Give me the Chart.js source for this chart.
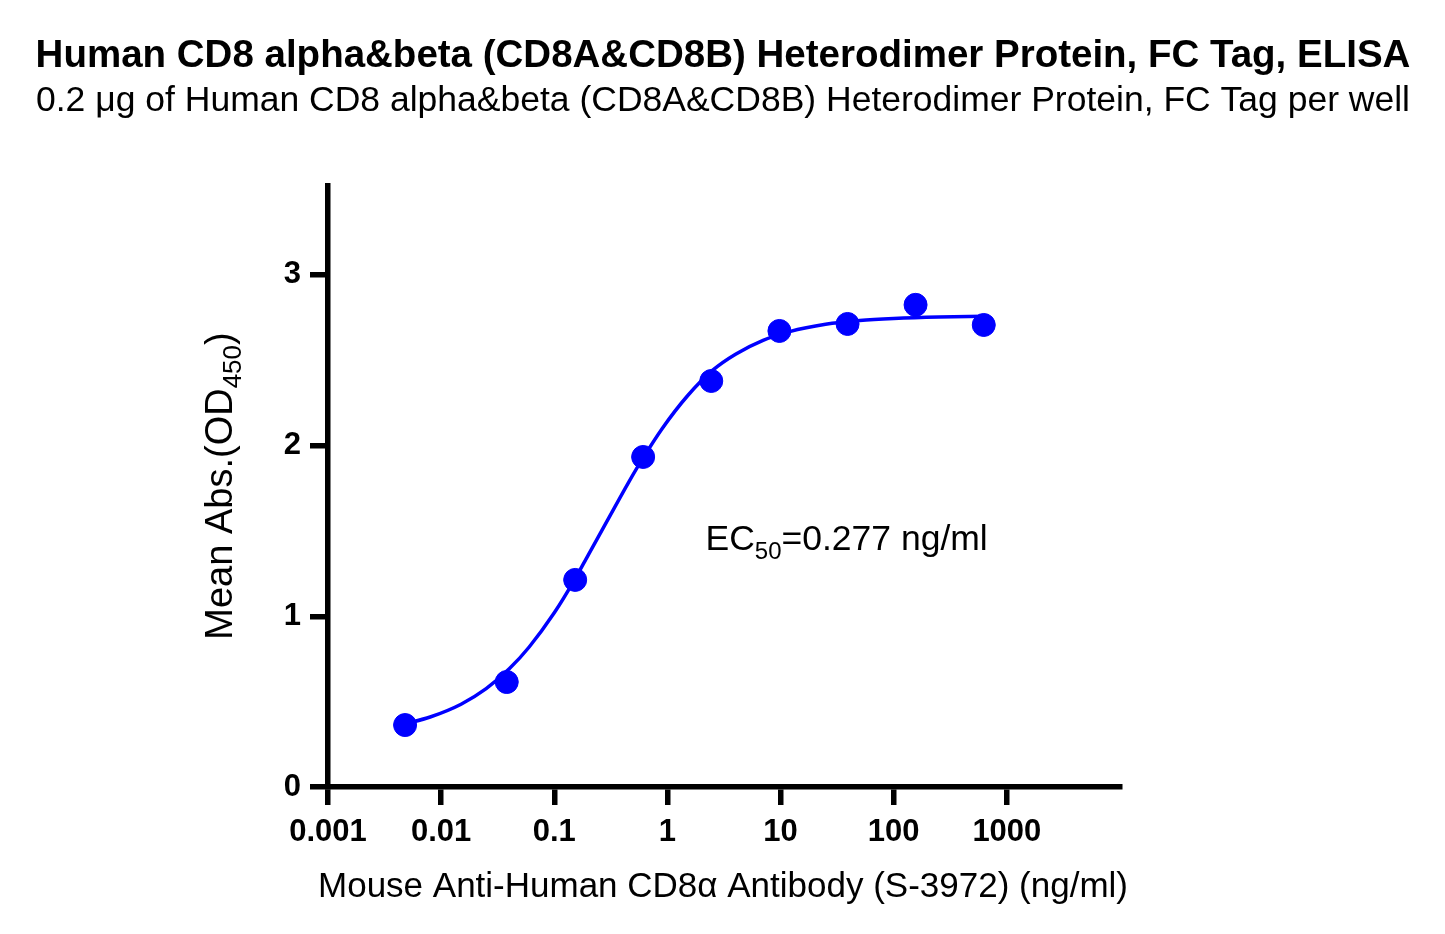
<!DOCTYPE html>
<html>
<head>
<meta charset="utf-8">
<script src="https://cdn.jsdelivr.net/npm/chart.js@4.4.1/dist/chart.umd.min.js"></script>
<style>
  html, body { margin: 0; padding: 0; background: #fff; }
  #wrap { width: 1445px; height: 934px; }
</style>
</head>
<body>
<div id="wrap"><canvas id="elisa" width="1445" height="934"></canvas></div>
<script>
// measured points (ng/ml vs OD450)
const concentrations = [0.0048, 0.038, 0.153, 0.61, 2.44, 9.77, 39.1, 156, 625];
const absorbance = [0.363, 0.615, 1.213, 1.933, 2.378, 2.671, 2.712, 2.824, 2.706];

// fitted curve
const fitX = [0.0048, 0.008, 0.015, 0.025, 0.04, 0.06, 0.1, 0.15, 0.2, 0.3, 0.45, 0.6, 0.9, 1.5, 2.5, 4, 7, 12, 25, 50, 100, 250, 625];
const fitY = [0.37, 0.41, 0.485, 0.576, 0.692, 0.82, 1.02, 1.21, 1.36, 1.57, 1.78, 1.92, 2.10, 2.29, 2.44, 2.535, 2.616, 2.667, 2.71, 2.732, 2.744, 2.753, 2.757];

const xTicks = [0.001, 0.01, 0.1, 1, 10, 100, 1000];
const xTickLabels = ['0.001', '0.01', '0.1', '1', '10', '100', '1000'];
const yTicks = [0, 1, 2, 3];

const FONT = '"Liberation Sans", Arial, sans-serif';
const BLUE = '#0000ff';

// Titles, axis titles and EC50 note (need subscripts, so drawn by hand)
const textPlugin = {
    id: 'texts',
    afterDraw(chart) {
        const ctx = chart.ctx;
        const xs = chart.scales.x, ys = chart.scales.y;
        ctx.save();
        ctx.fillStyle = '#000';
        ctx.textBaseline = 'alphabetic';
        ctx.textAlign = 'center';

        ctx.font = 'bold 38.5px ' + FONT;
        ctx.fillText('Human CD8 alpha&beta (CD8A&CD8B) Heterodimer Protein, FC Tag, ELISA', 723, 67);
        ctx.font = '35.5px ' + FONT;
        ctx.fillText('0.2 \u03bcg of Human CD8 alpha&beta (CD8A&CD8B) Heterodimer Protein, FC Tag per well', 723, 111);

        ctx.font = '35px ' + FONT;
        ctx.fillText('Mouse Anti-Human CD8\u03b1 Antibody (S-3972) (ng/ml)', 723, 897);

        // y title with subscript
        ctx.translate(232, 486);
        ctx.rotate(-Math.PI / 2);
        const parts = [['Mean Abs.(OD', 38, 0], ['450', 26, 9], [')', 38, 0]];
        let total = 0;
        parts.forEach(p => { ctx.font = p[1] + 'px ' + FONT; total += ctx.measureText(p[0]).width; });
        let cx = -total / 2;
        ctx.textAlign = 'left';
        parts.forEach(p => {
            ctx.font = p[1] + 'px ' + FONT;
            ctx.fillText(p[0], cx, p[2]);
            cx += ctx.measureText(p[0]).width;
        });
        ctx.setTransform(1, 0, 0, 1, 0, 0);
        ctx.scale(chart.currentDevicePixelRatio, chart.currentDevicePixelRatio);

        // EC50 annotation, anchored in data space
        let ex = xs.getPixelForValue(2.17);
        const ey = ys.getPixelForValue(1.39);
        const ec = [['EC', 35.5, 0], ['50', 24, 9], ['=0.277 ng/ml', 35.5, 0]];
        ec.forEach(p => {
            ctx.font = p[1] + 'px ' + FONT;
            ctx.fillText(p[0], ex, ey + p[2]);
            ex += ctx.measureText(p[0]).width;
        });
        ctx.restore();
    }
};

new Chart(document.getElementById('elisa'), {
    type: 'scatter',
    data: {
        datasets: [
            {
                data: fitX.map((x, i) => ({ x: x, y: fitY[i] })),
                showLine: true,
                borderColor: BLUE,
                borderWidth: 3.5,
                pointRadius: 0,
                cubicInterpolationMode: 'monotone',
                order: 2
            },
            {
                data: concentrations.map((x, i) => ({ x: x, y: absorbance[i] })),
                showLine: false,
                backgroundColor: BLUE,
                borderColor: BLUE,
                pointRadius: 11.5,
                order: 1
            }
        ]
    },
    options: {
        responsive: false,
        animation: false,
        layout: { padding: { top: 186, right: 325, left: 0, bottom: 0 } },
        plugins: { legend: { display: false }, tooltip: { enabled: false } },
        scales: {
            x: {
                type: 'logarithmic',
                min: 0.001,
                max: 10000,
                afterBuildTicks: s => { s.ticks = xTicks.map(v => ({ value: v })); },
                afterFit: s => { s.height = 147; },
                ticks: {
                    autoSkip: false,
                    maxRotation: 0,
                    padding: 9,
                    color: '#000',
                    font: { family: FONT, size: 31, weight: 'bold' },
                    callback: (v) => xTickLabels[xTicks.indexOf(v)] ?? ''
                },
                grid: { drawOnChartArea: false, drawTicks: true, tickLength: 18, lineWidth: 5.5, color: '#000' },
                border: { display: true, width: 5.5, color: '#000' }
            },
            y: {
                min: 0,
                max: 3.52,
                afterBuildTicks: s => { s.ticks = yTicks.map(v => ({ value: v })); },
                afterFit: s => { s.width = 328; },
                ticks: {
                    padding: 9,
                    color: '#000',
                    font: { family: FONT, size: 31, weight: 'bold' }
                },
                grid: { drawOnChartArea: false, drawTicks: true, tickLength: 18, lineWidth: 5.5, color: '#000' },
                border: { display: true, width: 5.5, color: '#000' }
            }
        }
    },
    plugins: [textPlugin]
});
</script>
</body>
</html>
